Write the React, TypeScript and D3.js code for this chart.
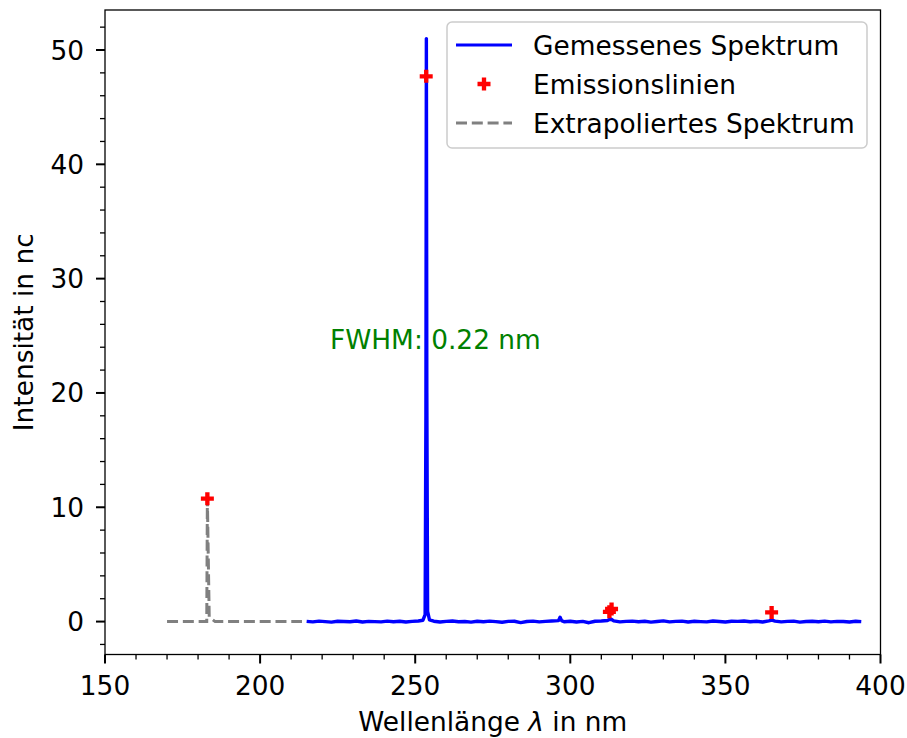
import React from "react";
import * as d3 from "d3";

// Measured spectrum (wavelength in nm, intensity in nc)
const measWl = [
  215, 217, 219, 221, 223, 225, 227, 229, 231, 233, 235, 237, 239, 241, 243, 245, 247, 249, 251,
  252.5, 253.2, 253.45, 253.6, 253.75, 254.0, 254.6,
  256, 258, 260, 262, 264, 266, 268, 270, 272, 274, 276, 278, 280, 282, 284, 286, 288, 290, 292, 294,
  296.2, 296.7, 297.2, 298, 300, 302, 304, 306, 308, 310, 312, 312.6, 313.2, 314,
  316, 318, 320, 322, 324, 326, 328, 330, 332, 334, 336, 338, 340, 342, 344, 346, 348, 350,
  352, 354, 356, 358, 360, 362, 364, 365, 366, 368, 370, 372, 374, 376, 378, 380, 382, 384,
  386, 388, 390, 392, 393.8,
];
const measI = [
  0.02, -0.03, 0.04, 0.0, -0.05, 0.03, 0.01, -0.02, 0.05, -0.04, 0.02, 0.0, -0.03, 0.04, -0.01, 0.03, -0.04, 0.02, 0.05,
  0.12, 0.6, 18, 51.0, 20, 0.9, 0.15,
  0.03, -0.04, 0.02, 0.05, -0.02, 0.01, -0.05, 0.03, -0.02, 0.04, 0.0, -0.06, 0.02, 0.03, -0.09, 0.01, 0.04, -0.03, 0.02, 0.05,
  0.08, 0.38, 0.08, -0.02, 0.03, -0.04, 0.02, -0.1, 0.03, 0.05, 0.1, 0.18, 0.2, 0.06,
  -0.03, 0.02, 0.04, -0.02, 0.03, -0.05, 0.01, 0.06, -0.03, 0.02, 0.04, -0.04, 0.03, 0.0, -0.03, 0.05, 0.01, -0.04,
  0.03, 0.02, 0.05, -0.02, 0.03, -0.04, 0.06, 0.12, 0.04, -0.03, 0.02, 0.04, -0.05, 0.01, 0.03, -0.02, 0.04, -0.03,
  0.02, 0.01, -0.04, 0.03, 0.0,
];

// Emission lines
const lineWl = [183.0, 253.55, 312.6, 313.3, 364.9];
const lineI = [10.75, 47.7, 0.85, 1.1, 0.8];

// Extrapolated spectrum
const extWl = [170, 182.8, 183.0, 183.6, 185.5, 213.5];
const extI = [0, 0, 10.7, 0.4, 0, 0];

const xMajor = [150, 200, 250, 300, 350, 400];
const xMinor = [160, 170, 180, 190, 210, 220, 230, 240, 260, 270, 280, 290, 310, 320, 330, 340, 360, 370, 380, 390];
const yMajor = [0, 10, 20, 30, 40, 50];
const yMinor = [-2, 2, 4, 6, 8, 12, 14, 16, 18, 22, 24, 26, 28, 32, 34, 36, 38, 42, 44, 46, 48, 52];

const legendLabels = ["Gemessenes Spektrum", "Emissionslinien", "Extrapoliertes Spektrum"];
const annotation = "FWHM: 0.22 nm";

const W = 907;
const H = 738;
const L = 105;
const R = 880.5;
const T = 10;
const B = 654.5;
const FONT = "DejaVu Sans, sans-serif";
const FS = 26.4;

function Plus({ cx, cy, s }: { cx: number; cy: number; s: number }) {
  const a = s / 2;
  const t = s / 6;
  const d = `M${cx - t},${cy - a}H${cx + t}V${cy - t}H${cx + a}V${cy + t}H${cx + t}V${cy + a}H${cx - t}V${cy + t}H${cx - a}V${cy - t}H${cx - t}Z`;
  return <path d={d} fill="#ff0000" />;
}

export default function App() {
  const x = d3.scaleLinear().domain([150, 400]).range([L, R]);
  const y = d3.scaleLinear().domain([-2.88, 53.5]).range([B, T]);

  const line = d3
    .line<[number, number]>()
    .x((d) => x(d[0]))
    .y((d) => y(d[1]));

  const meas = measWl.map((w, i) => [w, measI[i]] as [number, number]);
  const ext = extWl.map((w, i) => [w, extI[i]] as [number, number]);

  return (
    <svg width={W} height={H} style={{ display: "block", position: "absolute", left: 0, top: 0 }} fontFamily={FONT}>
      <rect x={0} y={0} width={W} height={H} fill="#ffffff" />
      <defs>
        <clipPath id="plotclip">
          <rect x={L} y={T} width={R - L} height={B - T} />
        </clipPath>
      </defs>

      <g clipPath="url(#plotclip)">
        <path d={line(ext) || ""} fill="none" stroke="#808080" strokeWidth={3} strokeDasharray="11,4.8" />
        <text x={330} y={349} fontSize={FS} fill="#008000">{annotation}</text>
        <path d={line(meas) || ""} fill="none" stroke="#0000ff" strokeWidth={3.4} strokeLinejoin="round" />
        {lineWl.map((w, i) => (
          <Plus key={i} cx={x(w)} cy={y(lineI[i])} s={13} />
        ))}
      </g>

      {/* spines */}
      <rect x={L} y={T} width={R - L} height={B - T} fill="none" stroke="#000" strokeWidth={1.3} />

      {/* x ticks */}
      {xMajor.map((v) => (
        <g key={"xm" + v}>
          <line x1={x(v)} x2={x(v)} y1={B} y2={B + 9} stroke="#000" strokeWidth={2} />
          <text x={x(v)} y={695} fontSize={FS} textAnchor="middle" fill="#000">{v}</text>
        </g>
      ))}
      {xMinor.map((v) => (
        <line key={"xn" + v} x1={x(v)} x2={x(v)} y1={B} y2={B + 5} stroke="#000" strokeWidth={1.3} />
      ))}

      {/* y ticks */}
      {yMajor.map((v) => (
        <g key={"ym" + v}>
          <line x1={L - 9} x2={L} y1={y(v)} y2={y(v)} stroke="#000" strokeWidth={2} />
          <text x={84} y={y(v)} dy="0.36em" fontSize={FS} textAnchor="end" fill="#000">{v}</text>
        </g>
      ))}
      {yMinor.map((v) => (
        <line key={"yn" + v} x1={L - 5} x2={L} y1={y(v)} y2={y(v)} stroke="#000" strokeWidth={1.3} />
      ))}

      {/* axis labels */}
      <text x={(L + R) / 2} y={731} fontSize={FS} textAnchor="middle" fill="#000">
        Wellenlänge <tspan fontStyle="italic">λ</tspan> in nm
      </text>
      <text transform={`translate(33,${(T + B) / 2}) rotate(-90)`} fontSize={FS} textAnchor="middle" fill="#000">
        Intensität in nc
      </text>

      {/* legend */}
      <g>
        <rect x={447} y={22} width={420} height={126} rx={5} fill="#ffffff" fillOpacity={0.8} stroke="#cccccc" strokeWidth={1.5} />
        <line x1={456} x2={512} y1={45} y2={45} stroke="#0000ff" strokeWidth={3} />
        <Plus cx={484} cy={84} s={13} />
        <line x1={456} x2={512} y1={123} y2={123} stroke="#808080" strokeWidth={3} strokeDasharray="11,4.8" />
        {legendLabels.map((t, i) => (
          <text key={t} x={533} y={45 + i * 39} dy="0.36em" fontSize={FS} fill="#000">{t}</text>
        ))}
      </g>
    </svg>
  );
}
